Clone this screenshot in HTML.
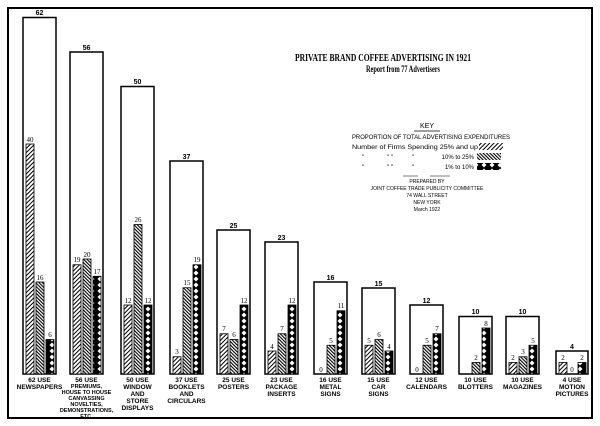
<!DOCTYPE html>
<html><head><style>
body{margin:0;background:#fff;}
svg{display:block;}
.v{font:7px "Liberation Serif",serif;text-anchor:middle;}
.b{font:bold 7px "Liberation Sans",sans-serif;text-anchor:middle;}
.l{font:bold 6.5px "Liberation Sans Narrow","Liberation Sans",sans-serif;text-anchor:middle;}
.k{font:6px "Liberation Sans Narrow","Liberation Sans",sans-serif;}
</style></head><body>
<svg width="600" height="426" viewBox="0 0 600 426" xmlns="http://www.w3.org/2000/svg">
<defs>
<pattern id="p1" width="3" height="3" patternUnits="userSpaceOnUse" patternTransform="rotate(45)"><rect width="3" height="3" fill="#fff"/><rect width="1" height="3" fill="#000"/></pattern>
<pattern id="p2" width="2.4" height="2.4" patternUnits="userSpaceOnUse" patternTransform="rotate(-45)"><rect width="2.4" height="2.4" fill="#fff"/><rect width="1.1" height="2.4" fill="#000"/></pattern>
<pattern id="p3" width="8" height="6" patternUnits="userSpaceOnUse"><rect width="8" height="6" fill="#000"/><path d="M4 0.5L6.5 3L4 5.5L1.5 3Z" fill="#fff"/></pattern>
</defs>
<rect x="8" y="8" width="584" height="410" fill="none" stroke="#000" stroke-width="2"/>
<text x="295" y="61" textLength="176" lengthAdjust="spacingAndGlyphs" style="font:bold 10px 'Liberation Serif',serif">PRIVATE  BRAND COFFEE ADVERTISING IN 1921</text>
<text x="366" y="72" textLength="74" lengthAdjust="spacingAndGlyphs" style="font:bold 9px 'Liberation Serif',serif">Report from 77 Advertisers</text>
<g class="k">
<text x="427" y="128" style="text-anchor:middle;font-size:7px">KEY</text>
<line x1="414" y1="131" x2="440" y2="131" stroke="#000" stroke-width="0.7"/>
<text x="352" y="139" textLength="158" lengthAdjust="spacingAndGlyphs">PROPORTION OF TOTAL ADVERTISING EXPENDITURES</text>
<text x="352" y="149" textLength="126" lengthAdjust="spacingAndGlyphs">Number of Firms Spending 25% and up</text>
<rect x="479" y="143" width="24" height="7" fill="url(#p1)"/>
<text x="362" y="159">"</text><text x="387" y="159">"  "</text><text x="412" y="159">"</text>
<text x="474" y="159" style="text-anchor:end">10% to 25%</text>
<rect x="477" y="153" width="24" height="7" fill="url(#p2)"/>
<text x="362" y="169">"</text><text x="387" y="169">"  "</text><text x="412" y="169">"</text>
<text x="474" y="169" style="text-anchor:end">1% to 10%</text>
<rect x="477" y="163" width="24" height="7" fill="url(#p3)"/>
<line x1="403" y1="176" x2="418" y2="176" stroke="#000" stroke-width="0.5"/>
<line x1="430" y1="176" x2="450" y2="176" stroke="#000" stroke-width="0.5"/>
<g style="text-anchor:middle;font-size:5px">
<text x="427" y="183">PREPARED BY</text>
<text x="427" y="190">JOINT COFFEE TRADE PUBLICITY COMMITTEE</text>
<text x="427" y="197">74 WALL STREET</text>
<text x="427" y="204">NEW YORK</text>
<text x="427" y="211">March 1922</text>
</g></g>
<g fill="none" stroke="#000" stroke-width="1.5">
<rect x="23" y="17.5" width="33" height="356.5"/>
<rect x="70" y="52" width="33" height="322"/>
<rect x="121" y="86.5" width="33" height="287.5"/>
<rect x="170" y="161" width="33" height="213"/>
<rect x="217" y="230" width="33" height="144"/>
<rect x="265" y="242" width="33" height="132"/>
<rect x="314" y="282" width="33" height="92"/>
<rect x="362" y="288" width="33" height="86"/>
<rect x="410" y="305" width="33" height="69"/>
<rect x="459" y="316.5" width="33" height="57.5"/>
<rect x="506" y="316.5" width="33" height="57.5"/>
<rect x="556" y="351" width="32" height="23"/>
</g>
<g class="b">
<text x="39.5" y="15">62</text><text x="86.5" y="50">56</text><text x="137.5" y="84">50</text><text x="186.5" y="159">37</text><text x="233.5" y="228">25</text><text x="281.5" y="240">23</text><text x="330.5" y="280">16</text><text x="378.5" y="286">15</text><text x="426.5" y="303">12</text><text x="475.5" y="314">10</text><text x="522.5" y="314">10</text><text x="572" y="349">4</text>
</g>
<g stroke="#000" stroke-width="0.8">
<rect x="26" y="144" width="8" height="230" fill="url(#p1)"/><rect x="36" y="282" width="8" height="92" fill="url(#p2)"/><rect x="46" y="339.5" width="8" height="34.5" fill="url(#p3)"/>
<rect x="73" y="264.75" width="8" height="109.25" fill="url(#p1)"/><rect x="83" y="259" width="8" height="115" fill="url(#p2)"/><rect x="93" y="276.25" width="8" height="97.75" fill="url(#p3)"/>
<rect x="124" y="305" width="8" height="69" fill="url(#p1)"/><rect x="134" y="224.5" width="8" height="149.5" fill="url(#p2)"/><rect x="144" y="305" width="8" height="69" fill="url(#p3)"/>
<rect x="173" y="356.75" width="8" height="17.25" fill="url(#p1)"/><rect x="183" y="287.75" width="8" height="86.25" fill="url(#p2)"/><rect x="193" y="264.75" width="8" height="109.25" fill="url(#p3)"/>
<rect x="220" y="333.75" width="8" height="40.25" fill="url(#p1)"/><rect x="230" y="339.5" width="8" height="34.5" fill="url(#p2)"/><rect x="240" y="305" width="8" height="69" fill="url(#p3)"/>
<rect x="268" y="351" width="8" height="23" fill="url(#p1)"/><rect x="278" y="333.75" width="8" height="40.25" fill="url(#p2)"/><rect x="288" y="305" width="8" height="69" fill="url(#p3)"/>
<rect x="327" y="345.25" width="8" height="28.75" fill="url(#p2)"/><rect x="337" y="310.75" width="8" height="63.25" fill="url(#p3)"/>
<rect x="365" y="345.25" width="8" height="28.75" fill="url(#p1)"/><rect x="375" y="339.5" width="8" height="34.5" fill="url(#p2)"/><rect x="385" y="351" width="8" height="23" fill="url(#p3)"/>
<rect x="423" y="345.25" width="8" height="28.75" fill="url(#p2)"/><rect x="433" y="333.75" width="8" height="40.25" fill="url(#p3)"/>
<rect x="472" y="362.5" width="8" height="11.5" fill="url(#p2)"/><rect x="482" y="328" width="8" height="46" fill="url(#p3)"/>
<rect x="509" y="362.5" width="8" height="11.5" fill="url(#p1)"/><rect x="519" y="356.75" width="8" height="17.25" fill="url(#p2)"/><rect x="529" y="345.25" width="8" height="28.75" fill="url(#p3)"/>
<rect x="559" y="362.5" width="8" height="11.5" fill="url(#p1)"/><rect x="578" y="362.5" width="8" height="11.5" fill="url(#p3)"/>
</g>
<g class="v">
<text x="30" y="142">40</text><text x="40" y="280">16</text><text x="50" y="337">6</text>
<text x="77" y="262">19</text><text x="87" y="257">20</text><text x="97" y="274">17</text>
<text x="128" y="303">12</text><text x="138" y="222">26</text><text x="148" y="303">12</text>
<text x="177" y="354">3</text><text x="187" y="285">15</text><text x="197" y="262">19</text>
<text x="224" y="331">7</text><text x="234" y="337">6</text><text x="244" y="303">12</text>
<text x="272" y="349">4</text><text x="282" y="331">7</text><text x="292" y="303">12</text>
<text x="321" y="372">0</text><text x="331" y="343">5</text><text x="341" y="308">11</text>
<text x="369" y="343">5</text><text x="379" y="337">6</text><text x="389" y="349">4</text>
<text x="417" y="372">0</text><text x="427" y="343">5</text><text x="437" y="331">7</text>
<text x="476" y="360">2</text><text x="486" y="326">8</text>
<text x="513" y="360">2</text><text x="523" y="354">3</text><text x="533" y="343">5</text>
<text x="563" y="360">2</text><text x="572" y="372">0</text><text x="582" y="360">2</text>
</g>
<g class="l">
<text x="39.5" y="382">62 USE</text><text x="39.5" y="389">NEWSPAPERS</text>
<text x="86.5" y="382">56 USE</text><text x="86.5" y="388" style="font-size:5.5px">PREMIUMS,</text><text x="86.5" y="394" style="font-size:5.5px">HOUSE TO HOUSE</text><text x="86.5" y="400" style="font-size:5.5px">CANVASSING</text><text x="86.5" y="406" style="font-size:5.5px">NOVELTIES,</text><text x="86.5" y="412" style="font-size:5.5px">DEMONSTRATIONS,</text><text x="86.5" y="418" style="font-size:5.5px">ETC.</text>
<text x="137.5" y="382">50 USE</text><text x="137.5" y="389">WINDOW</text><text x="137.5" y="396">AND</text><text x="137.5" y="403">STORE</text><text x="137.5" y="410">DISPLAYS</text>
<text x="186.5" y="382">37 USE</text><text x="186.5" y="389">BOOKLETS</text><text x="186.5" y="396">AND</text><text x="186.5" y="403">CIRCULARS</text>
<text x="233.5" y="382">25 USE</text><text x="233.5" y="389">POSTERS</text>
<text x="281.5" y="382">23 USE</text><text x="281.5" y="389">PACKAGE</text><text x="281.5" y="396">INSERTS</text>
<text x="330.5" y="382">16 USE</text><text x="330.5" y="389">METAL</text><text x="330.5" y="396">SIGNS</text>
<text x="378.5" y="382">15 USE</text><text x="378.5" y="389">CAR</text><text x="378.5" y="396">SIGNS</text>
<text x="426.5" y="382">12 USE</text><text x="426.5" y="389">CALENDARS</text>
<text x="475.5" y="382">10 USE</text><text x="475.5" y="389">BLOTTERS</text>
<text x="522.5" y="382">10 USE</text><text x="522.5" y="389">MAGAZINES</text>
<text x="572" y="382">4 USE</text><text x="572" y="389">MOTION</text><text x="572" y="396">PICTURES</text>
</g>
</svg>
</body></html>
